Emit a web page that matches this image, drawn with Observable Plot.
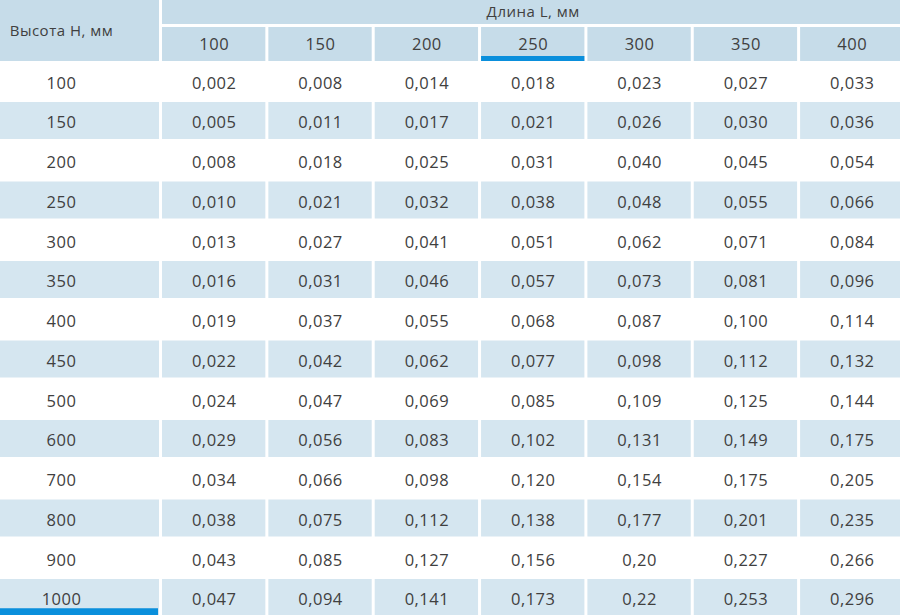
<!DOCTYPE html>
<html>
<head>
<meta charset="utf-8">
<script src="https://cdn.jsdelivr.net/npm/d3@7"></script>
<script src="https://cdn.jsdelivr.net/npm/@observablehq/plot@0.6"></script>
<style>
  html, body { margin: 0; padding: 0; background: #fff; }
  #chart svg { display: block; }
</style>
</head>
<body>
<div id="chart"></div>
<script>
// ---- data ----
const keyHeader = "Высота Н, мм";
const groupHeader = "Длина L, мм";
const lengths = ["100", "150", "200", "250", "300", "350", "400"];
const heights = ["100", "150", "200", "250", "300", "350", "400", "450", "500", "600", "700", "800", "900", "1000"];
const col100 = ["0,002", "0,005", "0,008", "0,010", "0,013", "0,016", "0,019", "0,022", "0,024", "0,029", "0,034", "0,038", "0,043", "0,047"];
const col150 = ["0,008", "0,011", "0,018", "0,021", "0,027", "0,031", "0,037", "0,042", "0,047", "0,056", "0,066", "0,075", "0,085", "0,094"];
const col200 = ["0,014", "0,017", "0,025", "0,032", "0,041", "0,046", "0,055", "0,062", "0,069", "0,083", "0,098", "0,112", "0,127", "0,141"];
const col250 = ["0,018", "0,021", "0,031", "0,038", "0,051", "0,057", "0,068", "0,077", "0,085", "0,102", "0,120", "0,138", "0,156", "0,173"];
const col300 = ["0,023", "0,026", "0,040", "0,048", "0,062", "0,073", "0,087", "0,098", "0,109", "0,131", "0,154", "0,177", "0,20", "0,22"];
const col350 = ["0,027", "0,030", "0,045", "0,055", "0,071", "0,081", "0,100", "0,112", "0,125", "0,149", "0,175", "0,201", "0,227", "0,253"];
const col400 = ["0,033", "0,036", "0,054", "0,066", "0,084", "0,096", "0,114", "0,132", "0,144", "0,175", "0,205", "0,235", "0,266", "0,296"];
const highlightedLength = "250";
const highlightedHeight = "1000";

// ---- layout (column / row units) ----
const W = 900, H = 615;
const colPx = 106.35;            // one length column, in pixels
const rowPx = 39.75;             // one data row, in pixels
const keyW = 199 / colPx;        // key column width (in column units)
const xStart = 37 / colPx;       // key column partly outside the view
const headTop = 27 / rowPx;      // top header band (in row units)
const headH = 62.25 / rowPx;     // full header height (in row units)
const columns = [col100, col150, col200, col250, col300, col350, col400];

const headerFill = "#c6dce9";
const stripeFill = "#d5e6f0";
const accent = "#0a8fdc";
const ink = "#404040";

const cells = [];
heights.forEach((h, i) => {
  cells.push({row: i, h, key: true, x1: 0, x2: keyW, label: h});
  lengths.forEach((l, j) => {
    cells.push({row: i, h, l, key: false, x1: keyW + j, x2: keyW + j + 1, label: columns[j][i]});
  });
});
const subHeads = lengths.map((l, j) => ({l, x1: keyW + j, x2: keyW + j + 1}));

const chart = Plot.plot({
  width: W,
  height: H,
  margin: 0,
  x: {type: "linear", domain: [xStart, xStart + W / colPx], range: [0, W], axis: null},
  y: {type: "linear", domain: [0, H / rowPx], range: [0, H], axis: null},
  style: {fontFamily: "'Open Sans', sans-serif", letterSpacing: "0.5px", background: "#fff", color: ink},
  marks: [
    // striped body rows
    Plot.rect(cells.filter(d => d.row % 2 === 1), {
      x1: "x1", x2: "x2",
      y1: d => headH + d.row, y2: d => headH + d.row + 1,
      fill: stripeFill, insetRight: 3, insetBottom: 2.75
    }),
    // header: key column
    Plot.rect([keyHeader], {x1: 0, x2: keyW, y1: 0, y2: headH, fill: headerFill, insetRight: 3, insetBottom: 1.25}),
    // header: group band
    Plot.rect([groupHeader], {x1: keyW, x2: keyW + lengths.length, y1: 0, y2: headTop, fill: headerFill, insetRight: 3, insetBottom: 3}),
    // header: length cells
    Plot.rect(subHeads, {x1: "x1", x2: "x2", y1: headTop, y2: headH, fill: headerFill, insetRight: 3, insetBottom: 1.25}),
    // accent bars
    Plot.rect(subHeads.filter(d => d.l === highlightedLength), {
      x1: "x1", x2: "x2", y1: headH - 6.25 / rowPx, y2: headH, fill: accent, insetRight: 3, insetBottom: 1.25
    }),
    Plot.rect(cells.filter(d => d.key && d.h === highlightedHeight), {
      x1: "x1", x2: "x2", y1: d => headH + d.row + 1 - 10.5 / rowPx, y2: d => headH + d.row + 1, fill: accent, insetRight: 4
    }),
    // header texts
    Plot.text([keyHeader], {x: keyW / 2, y: headH / 2, text: d => d, fontSize: 15, fill: ink, dx: -1.5, dy: 0}),
    Plot.text([groupHeader], {x: keyW + lengths.length / 2, y: headTop / 2, text: d => d, fontSize: 15, fill: ink, dx: -1.5, dy: -1.5}),
    Plot.text(subHeads, {x: d => (d.x1 + d.x2) / 2, y: (headTop + headH) / 2, text: "l", fontSize: 16.5, fill: ink, dx: -1.5, dy: -0.5}),
    // body texts
    Plot.text(cells, {
      x: d => (d.x1 + d.x2) / 2, y: d => headH + d.row + 0.5,
      text: "label", fontSize: 16.5, fill: ink, dx: -1.5, dy: 0.8
    })
  ]
});
document.getElementById("chart").appendChild(chart);
</script>
</body>
</html>
